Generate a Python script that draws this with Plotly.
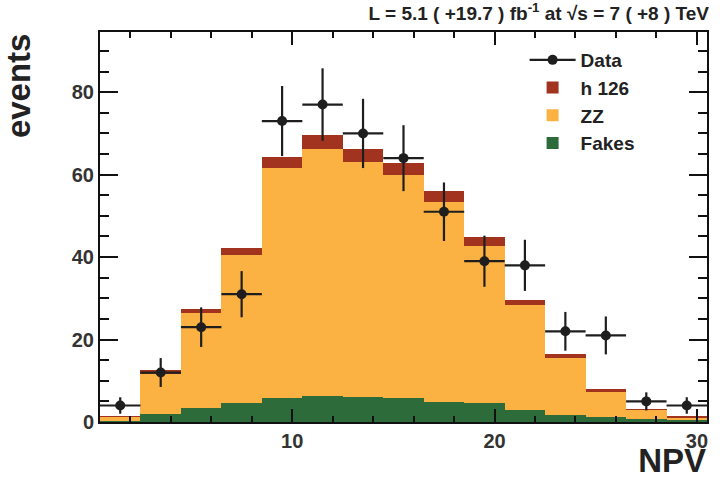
import plotly.graph_objects as go

# NPV bins (width 2, centred on odd half-integers)
bin_centers = [1.5, 3.5, 5.5, 7.5, 9.5, 11.5, 13.5, 15.5, 17.5, 19.5, 21.5, 23.5, 25.5, 27.5, 29.5]
bin_width = 2.0

# Observed events and their uncertainties
data_counts = [4, 12, 23, 31, 73, 77, 70, 64, 51, 39, 38, 22, 21, 5, 4]
data_errors = [2.0, 3.5, 4.8, 5.6, 8.5, 8.8, 8.4, 8.0, 7.1, 6.2, 6.2, 4.7, 4.6, 2.2, 2.0]

# Stacked expectations
fakes = [0.3, 1.9, 3.5, 4.6, 5.8, 6.2, 6.1, 5.9, 4.9, 4.5, 2.8, 1.8, 1.2, 0.8, 0.4]
zz = [1.1, 9.7, 23.0, 35.9, 55.7, 60.0, 57.0, 54.0, 48.5, 38.3, 25.5, 13.8, 6.3, 2.2, 0.8]
h126 = [0.05, 0.9, 1.0, 1.6, 2.8, 3.4, 3.0, 3.0, 2.6, 2.0, 1.4, 1.0, 0.4, 0.15, 0.05]

X_RANGE = [0.5, 30.5]
Y_RANGE = [0, 94.6]

C_FAKES = "#2E6B3B"
C_ZZ = "#FCB143"
C_H = "#A2341F"
C_DATA = "#1E1E1E"
FONT = "Liberation Sans"

fig = go.Figure()
for rank, (name, vals, col) in zip([4, 3, 2], [("Fakes", fakes, C_FAKES), ("ZZ", zz, C_ZZ), ("h 126", h126, C_H)]):
    fig.add_trace(go.Bar(x=bin_centers, y=vals, width=bin_width, name=name, legendrank=rank,
                         marker=dict(color=col, line=dict(width=0))))

# data points: separated by gaps so the legend shows line + marker but no connecting line
data_x, data_y, data_err = [], [], []
for xc, n, e in zip(bin_centers, data_counts, data_errors):
    data_x += [xc, None]
    data_y += [n, None]
    data_err += [e, None]

fig.add_trace(go.Scatter(
    x=data_x, y=data_y, mode="lines+markers", name="Data", legendrank=1, connectgaps=False,
    line=dict(color=C_DATA, width=2.2),
    marker=dict(color=C_DATA, size=10),
    error_y=dict(type="data", array=data_err, color=C_DATA, thickness=2.2, width=0),
    error_x=dict(type="constant", value=bin_width / 2, color=C_DATA, thickness=2.2, width=0),
))

# helper subplot that only carries the axis titles (top-left "events", bottom-right "NPV")
fig.add_trace(go.Scatter(x=[0], y=[0], xaxis="x2", yaxis="y2", mode="markers",
                         marker=dict(opacity=0), showlegend=False, hoverinfo="skip"))

# plot area in pixels (for placing legend / labels)
L, R, T, B = 100, 709, 32, 422
W, H = 720, 486


def px(xp):
    return (xp - L) / (R - L)


def py(yp):
    return (B - yp) / (B - T)


title_font = dict(family=FONT, size=33, color="#222", weight="bold")
hidden = dict(showline=False, showticklabels=False, ticks="", showgrid=False, zeroline=False,
              range=[0, 1], fixedrange=True)

fig.update_layout(
    width=W, height=H, barmode="stack", bargap=0,
    paper_bgcolor="white", plot_bgcolor="rgba(0,0,0,0)",
    font=dict(family=FONT, size=20, color="#333", weight="bold"),
    margin=dict(l=L, r=W - R, t=T, b=H - B),
    title=dict(text="L = 5.1 ( +19.7 ) fb<sup>-1</sup> at √s = 7 ( +8 ) TeV",
               xref="container", yref="container", x=709 / W, y=1 - 13 / H,
               xanchor="right", yanchor="middle",
               font=dict(family=FONT, size=19, color="#222", weight="bold")),
    showlegend=True,
    legend=dict(x=px(526), y=py(41), xanchor="left", yanchor="top", traceorder="normal",
                bgcolor="rgba(0,0,0,0)", itemwidth=46, tracegroupgap=0,
                font=dict(family=FONT, size=19, color="#222", weight="bold")),
    xaxis=dict(range=X_RANGE, dtick=10, ticks="inside", ticklen=13, tickwidth=2, tickcolor="#111",
               showline=True, linecolor="#111", linewidth=2, mirror="allticks",
               minor=dict(dtick=2, ticklen=6, tickcolor="#111", tickwidth=2, ticks="inside")),
    yaxis=dict(range=Y_RANGE, dtick=20, ticks="inside", ticklen=18, tickwidth=2, tickcolor="#111",
               showline=True, linecolor="#111", linewidth=2, mirror="allticks",
               minor=dict(dtick=5, ticklen=9, tickcolor="#111", tickwidth=2, ticks="inside")),
    xaxis2=dict(domain=[0.885, 1], anchor="free", position=0, side="bottom",
                title=dict(text="NPV", font=title_font, standoff=26), **hidden),
    yaxis2=dict(domain=[0.724, 1], anchor="free", position=0, side="left",
                title=dict(text="events", font=title_font, standoff=58), **hidden),
)

fig.write_html("out.html")
